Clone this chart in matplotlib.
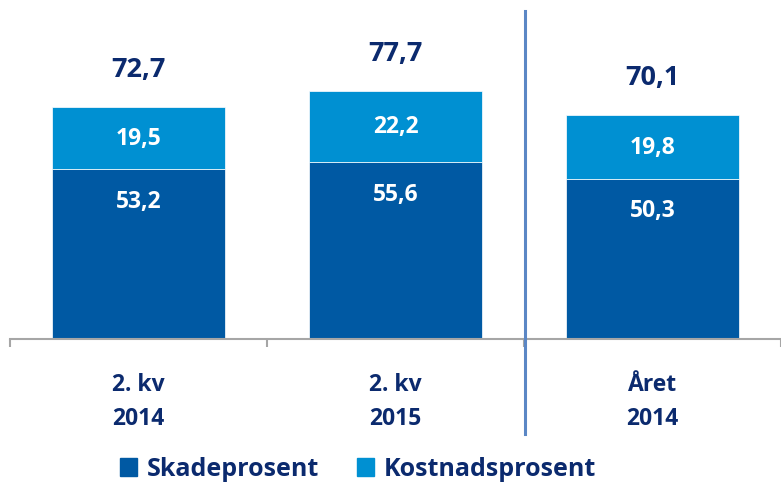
import matplotlib
matplotlib.use('Agg')
import matplotlib.pyplot as plt
from matplotlib.patches import Patch
from matplotlib.lines import Line2D

# data
kategorier = ['2. kv\n2014', '2. kv\n2015', 'Året\n2014']
skade = [53.2, 55.6, 50.3]
kostnad = [19.5, 22.2, 19.8]
totalt = [72.7, 77.7, 70.1]

mork = '#0059A3'
lys = '#0090D2'
navy = '#0B2A6E'

plt.rcParams['font.family'] = ['Open Sans', 'DejaVu Sans']
plt.rcParams['font.weight'] = 'bold'

fig = plt.figure(figsize=(7.81, 4.89), dpi=100)
ax = fig.add_axes([10 / 781, 149 / 489, 771 / 781, 319 / 489])

x = range(len(kategorier))
ax.bar(x, skade, width=0.67, color=mork, edgecolor='white', linewidth=0.5)
ax.bar(x, kostnad, width=0.67, bottom=skade, color=lys, edgecolor='white', linewidth=0.5)

for i in x:
    ax.text(i, skade[i] - 10, f'{skade[i]:.1f}'.replace('.', ','), ha='center', va='center',
            color='white', fontsize=16.5, fontweight='bold')
    ax.text(i, skade[i] + kostnad[i] / 2, f'{kostnad[i]:.1f}'.replace('.', ','), ha='center',
            va='center', color='white', fontsize=16.5, fontweight='bold')
    ax.text(i, totalt[i] + 12, f'{totalt[i]:.1f}'.replace('.', ','), ha='center', va='center',
            color=navy, fontsize=19.5, fontweight='bold')

ax.set_xlim(-0.5, 2.5)
ax.set_ylim(0, 100)
for s in ['top', 'right', 'left']:
    ax.spines[s].set_visible(False)
ax.spines['bottom'].set_color('#A6A6A6')
ax.spines['bottom'].set_linewidth(1.5)
ax.set_yticks([])
ax.set_xticks([-0.5, 0.5, 1.5, 2.5])
ax.set_xticklabels([])
ax.tick_params(axis='x', which='major', length=6, width=1.5, color='#A6A6A6')
ax.set_xticks(list(x), minor=True)
ax.set_xticklabels(kategorier, minor=True, fontsize=16.5, fontweight='bold', color=navy,
                   linespacing=1.55)
ax.tick_params(axis='x', which='minor', length=0, pad=24)

# skillelinje
fig.add_artist(Line2D([525 / 781, 525 / 781], [1 - 12 / 489, 1 - 435 / 489],
                      color='#5B87C5', linewidth=2.2))

handles = [Patch(color=mork, label='Skadeprosent'), Patch(color=lys, label='Kostnadsprosent')]
leg = fig.legend(handles=handles, loc='center', bbox_to_anchor=(358 / 781, 1 - 470 / 489),
                 ncol=2, frameon=False, fontsize=18, handlelength=0.7, handleheight=0.7,
                 handletextpad=0.4, columnspacing=1.5)
for t in leg.get_texts():
    t.set_color(navy)
    t.set_fontweight('bold')

fig.savefig('out.png', dpi=100)
